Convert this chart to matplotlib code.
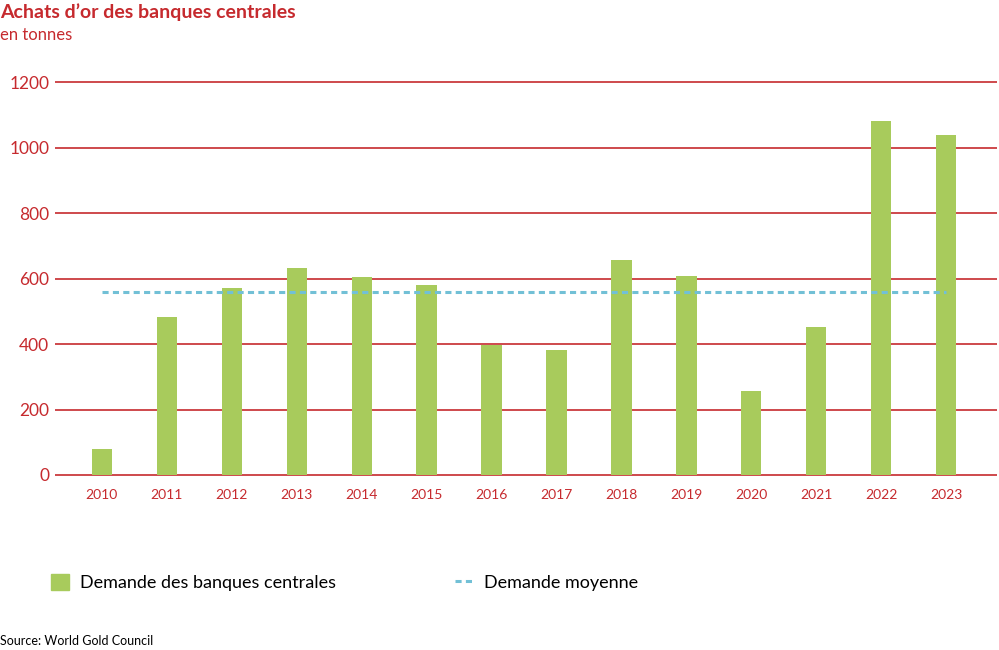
import matplotlib.pyplot as plt
from matplotlib.patches import Patch
from matplotlib.lines import Line2D

plt.rcParams['font.family'] = ['Lato', 'DejaVu Sans']

# data (tonnes)
years = ["2010", "2011", "2012", "2013", "2014", "2015", "2016",
         "2017", "2018", "2019", "2020", "2021", "2022", "2023"]
demand = [79, 482, 571, 632, 605, 580, 397, 382, 656, 608, 256, 452, 1081, 1037]
avg_demand = 559
yticks = [0, 200, 400, 600, 800, 1000, 1200]

red = "#c62a2e"
green = "#a8cb5c"
blue = "#72c0d6"
dash = (0, (2, 1.4))

fig = plt.figure(figsize=(9.99, 6.5), dpi=100)
ax = fig.add_axes([0.055, 0.2642, 0.943, 0.6246])

x = list(range(len(years)))
ax.bar(x, demand, width=0.31, color=green, zorder=3)
ax.plot([x[0], x[-1]], [avg_demand, avg_demand], ls=dash, lw=2.2,
        color=blue, zorder=4)

for v in yticks:
    ax.axhline(v, color=red, lw=1.2, zorder=1)

ax.set_xlim(-0.72, 13.78)
ax.set_ylim(-10, 1230)
ax.set_yticks(yticks)
ax.set_yticklabels([str(v) for v in yticks])
ax.set_xticks(x)
ax.set_xticklabels(years)
ax.tick_params(axis='y', length=0, pad=4, labelsize=12.5, labelcolor=red)
ax.tick_params(axis='x', length=0, pad=8, labelsize=10, labelcolor=red)
for s in ax.spines.values():
    s.set_visible(False)

fig.text(0.0, 0.995, "Achats d\u2019or des banques centrales", color=red,
         fontsize=14, fontweight='bold', va='top')
fig.text(0.0, 0.958, "en tonnes", color=red, fontsize=12, va='top')

# legend: square patch + short dashed line
handles = [Patch(color=green, label="Demande des banques centrales"),
           Line2D([], [], color=blue, ls=dash, lw=2.2,
                  label="Demande moyenne")]
fig.legend(handles=handles, loc='center left', bbox_to_anchor=(0.035, 0.104),
           ncol=2, frameon=False, fontsize=13, columnspacing=6.6,
           handlelength=1.0, handleheight=1.0, handletextpad=0.6)

fig.text(0.0, 0.008, "Source: World Gold Council", fontsize=9, color="black")

fig.savefig("out.png", dpi=100)
